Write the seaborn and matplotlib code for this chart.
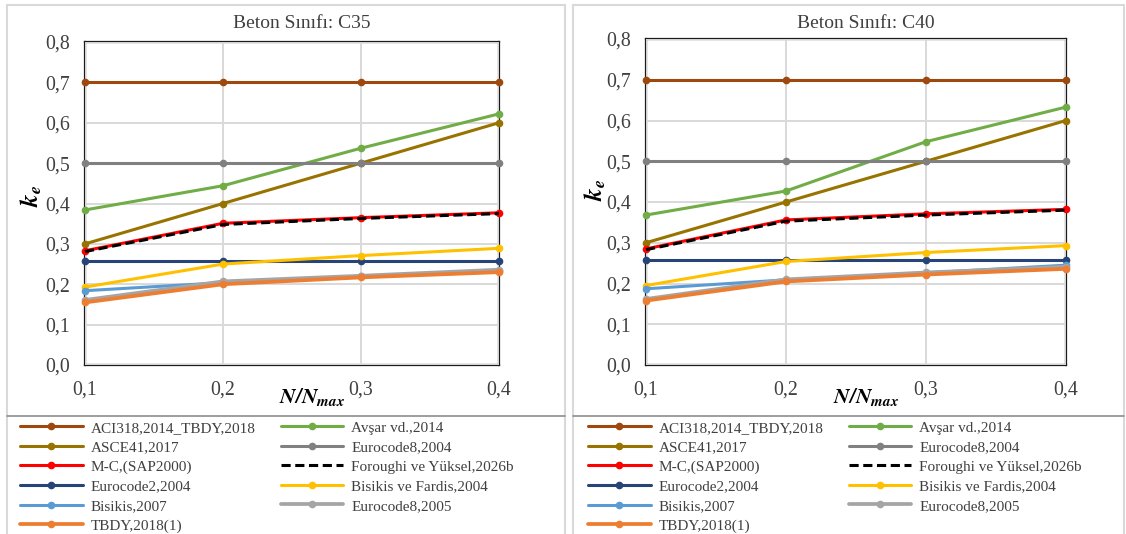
import matplotlib
matplotlib.use("Agg")
import matplotlib.pyplot as plt
from matplotlib.lines import Line2D
from matplotlib.patches import Rectangle
from matplotlib.ticker import FuncFormatter
import seaborn as sns

# N/Nmax values
n_ratio = [0.1, 0.2, 0.3, 0.4]

methods = ["ACI318,2014_TBDY,2018", "Avşar vd.,2014", "ASCE41,2017", "Eurocode8,2004",
           "M-C,(SAP2000)", "Foroughi ve Yüksel,2026b", "Eurocode2,2004",
           "Bisikis ve Fardis,2004", "Bisikis,2007", "Eurocode8,2005", "TBDY,2018(1)"]
colors = ["#9E480E", "#70AD47", "#997300", "#808080", "#FF0000", "#000000",
          "#264478", "#FFC000", "#5B9BD5", "#A5A5A5", "#ED7D31"]

# Beton Sınıfı C35
aci_c35 = [0.70, 0.70, 0.70, 0.70]
avsar_c35 = [0.384, 0.444, 0.537, 0.622]
asce_c35 = [0.30, 0.40, 0.50, 0.60]
ec8_04_c35 = [0.50, 0.50, 0.50, 0.50]
mc_c35 = [0.283, 0.351, 0.365, 0.377]
foroughi_c35 = [0.281, 0.348, 0.363, 0.375]
ec2_c35 = [0.258, 0.258, 0.258, 0.258]
bf_c35 = [0.193, 0.250, 0.271, 0.289]
bisikis_c35 = [0.184, 0.204, 0.220, 0.234]
ec8_05_c35 = [0.161, 0.207, 0.221, 0.236]
tbdy_c35 = [0.155, 0.200, 0.217, 0.230]

# Beton Sınıfı C40
aci_c40 = [0.70, 0.70, 0.70, 0.70]
avsar_c40 = [0.368, 0.427, 0.548, 0.633]
asce_c40 = [0.30, 0.40, 0.50, 0.60]
ec8_04_c40 = [0.50, 0.50, 0.50, 0.50]
mc_c40 = [0.285, 0.356, 0.371, 0.382]
foroughi_c40 = [0.283, 0.353, 0.368, 0.380]
ec2_c40 = [0.258, 0.258, 0.258, 0.258]
bf_c40 = [0.195, 0.254, 0.276, 0.293]
bisikis_c40 = [0.187, 0.209, 0.226, 0.245]
ec8_05_c40 = [0.162, 0.210, 0.227, 0.241]
tbdy_c40 = [0.158, 0.205, 0.222, 0.236]

c35 = [aci_c35, avsar_c35, asce_c35, ec8_04_c35, mc_c35, foroughi_c35,
       ec2_c35, bf_c35, bisikis_c35, ec8_05_c35, tbdy_c35]
c40 = [aci_c40, avsar_c40, asce_c40, ec8_04_c40, mc_c40, foroughi_c40,
       ec2_c40, bf_c40, bisikis_c40, ec8_05_c40, tbdy_c40]

sns.set_style("white")
plt.rcParams["font.family"] = ["Liberation Serif", "DejaVu Serif"]
plt.rcParams["mathtext.fontset"] = "stix"

W, H = 1126, 534
fig = plt.figure(figsize=(W / 100, H / 100), dpi=100)


def fx(px):
    return px / W


def fy(py):
    return 1 - py / H


comma = FuncFormatter(lambda v, p: "{:.1f}".format(v).replace(".", ","))
text_col = "#404040"

panels = [
    dict(data=c35, title="Beton Sınıfı: C35", box=(85, 42, 499, 365), frame=(7, 565),
         ylab=(31, 196), xlab=(312, 397), leg=(20, 421)),
    dict(data=c40, title="Beton Sınıfı: C40", box=(646, 39, 1066, 365), frame=(573, 1124),
         ylab=(595, 190), xlab=(866, 397), leg=(588, 421)),
]

for pnl in panels:
    l, t, r, b = pnl["box"]
    ax = fig.add_axes([fx(l), fy(b), fx(r - l), (b - t) / H])
    for name, col, vals in zip(methods, colors, pnl["data"]):
        dashed = name.startswith("Foroughi")
        lw = 2.7 if name in ("TBDY,2018(1)", "Eurocode8,2005") else 2.2
        sns.lineplot(x=n_ratio, y=vals, ax=ax, color=col, linewidth=lw,
                     marker=None if dashed else "o", markersize=5.5,
                     markeredgewidth=0, linestyle=(0, (3, 1.5)) if dashed else "-",
                     label=name, legend=False, clip_on=False)
    ax.set_xlim(0.1, 0.4)
    ax.set_ylim(0, 0.8)
    ax.set_xticks(n_ratio)
    ax.set_yticks([i / 10 for i in range(9)])
    ax.xaxis.set_major_formatter(comma)
    ax.yaxis.set_major_formatter(comma)
    ax.tick_params(length=0, labelsize=14.3, colors=text_col, pad=10.5)
    ax.tick_params(axis="x", pad=11)
    ax.grid(True, color="#D9D9D9", linewidth=1.4)
    ax.set_axisbelow(True)
    for sp in ax.spines.values():
        sp.set_color("#1a1a1a")
        sp.set_linewidth(1.6)
        sp.set_zorder(0.5)
    ax.set_xlabel("")
    ax.set_ylabel("")
    fig.text(fx((l + r) / 2 + 10), fy(23), pnl["title"], ha="center", va="center",
             fontsize=14, color=text_col)
    fig.text(fx(pnl["ylab"][0]), fy(pnl["ylab"][1]), r"$\mathbfit{k_e}$", rotation=90,
             ha="center", va="center", fontsize=18, color="black")
    fig.text(fx(pnl["xlab"][0]), fy(pnl["xlab"][1]), r"$\mathbfit{N/N_{max}}$",
             ha="center", va="center", fontsize=15.5, color="black")

    # panel frame and legend separator
    x0, x1 = pnl["frame"]
    fig.add_artist(Rectangle((fx(x0), fy(540)), fx(x1 - x0), (540 - 5) / H,
                             transform=fig.transFigure, fill=False,
                             edgecolor="#D9D9D9", linewidth=1.5))
    fig.add_artist(Line2D([fx(x0), fx(x1)], [fy(416), fy(416)],
                          transform=fig.transFigure, color="#8C8C8C", linewidth=1.2))

    handles, labels = ax.get_legend_handles_labels()
    order = [0, 2, 4, 6, 8, 10, 1, 3, 5, 7, 9]
    fig.legend([handles[i] for i in order], [labels[i] for i in order], ncol=2,
               loc="upper left", bbox_to_anchor=(fx(pnl["leg"][0]), fy(pnl["leg"][1])),
               frameon=False, fontsize=11, handlelength=4.1, handletextpad=0.52,
               columnspacing=1.64, labelspacing=0.38, borderpad=0, borderaxespad=0,
               labelcolor=text_col)

fig.savefig("out.png", dpi=100)
